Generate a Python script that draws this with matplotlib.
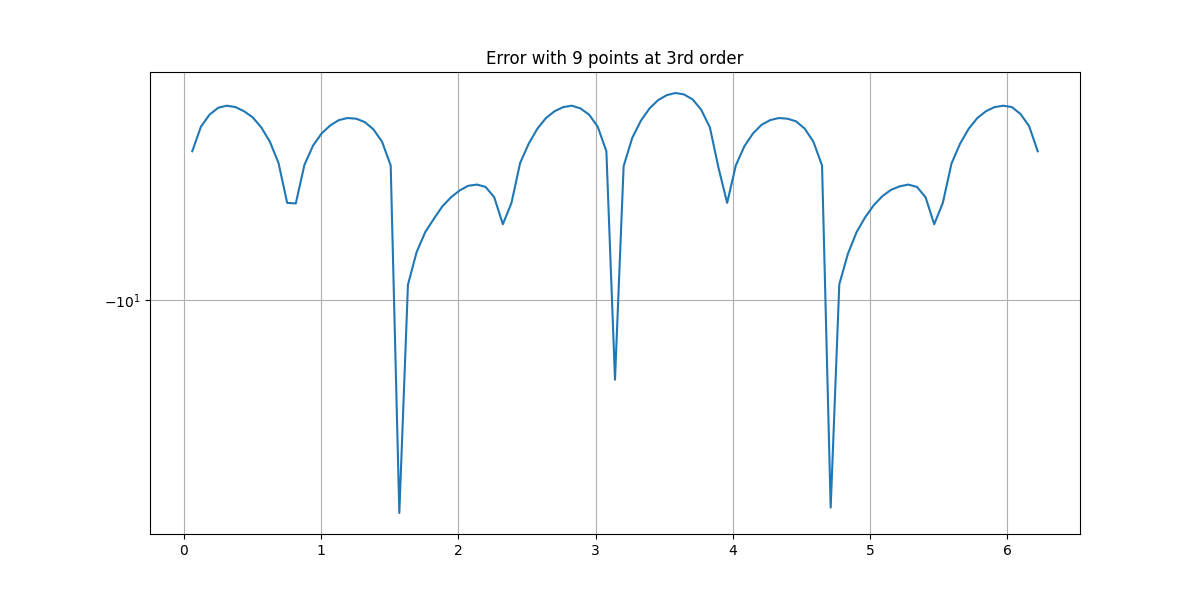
import numpy as np
import matplotlib
matplotlib.use('Agg')
import matplotlib.pyplot as plt

# 99 sample points, step 2*pi/100 (endpoints left out)
x = np.linspace(0, 2 * np.pi, 101)[1:-1]

# log10 of the error
log_err = [
    -7.19, -6.81, -6.63, -6.53, -6.50, -6.52, -6.58, -6.67, -6.82, -7.04,
    -7.38, -8.06, -8.07, -7.41, -7.10, -6.91, -6.79, -6.71, -6.68, -6.69,
    -6.74, -6.85, -7.04, -7.42, -16.01, -9.66, -8.99, -8.60, -8.35, -8.12,
    -7.96, -7.84, -7.76, -7.74, -7.78, -7.96, -8.45, -8.06, -7.38, -7.07,
    -6.84, -6.68, -6.58, -6.52, -6.50, -6.54, -6.63, -6.81, -7.19, -11.92,
    -7.43, -6.98, -6.72, -6.54, -6.42, -6.35, -6.32, -6.34, -6.41, -6.56,
    -6.82, -7.46, -8.06, -7.42, -7.11, -6.91, -6.78, -6.71, -6.68, -6.69,
    -6.73, -6.84, -7.04, -7.42, -15.82, -9.65, -9.02, -8.60, -8.32, -8.10,
    -7.94, -7.83, -7.77, -7.74, -7.78, -7.96, -8.45, -8.06, -7.39, -7.07,
    -6.84, -6.68, -6.58, -6.52, -6.50, -6.52, -6.62, -6.80, -7.19,
]

fig, ax = plt.subplots(figsize=(12, 6), dpi=100)
ax.plot(x, log_err)
ax.set_yscale('symlog')
ax.set_title("Error with 9 points at 3rd order")
ax.grid(True)

fig.savefig('out.png')
